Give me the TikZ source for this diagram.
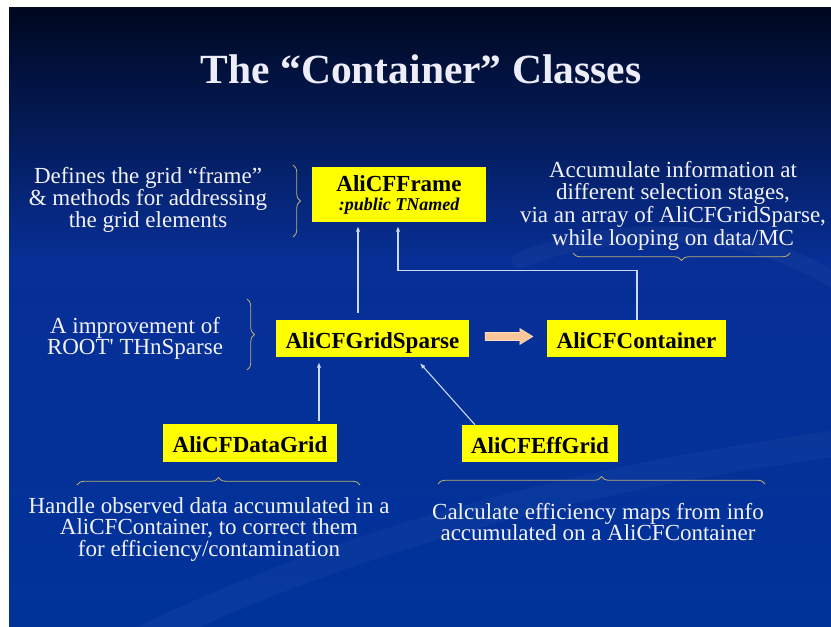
\documentclass[tikz,border=0pt]{standalone}
\usepackage{fontspec}
\setmainfont{Liberation Serif}
\usetikzlibrary{decorations.pathreplacing,calc,arrows.meta}
\definecolor{bgtop}{HTML}{00081F}
\definecolor{bgmid}{HTML}{072F96}
\definecolor{bgbot}{HTML}{00339A}
\definecolor{boxyellow}{HTML}{FFFF00}
\definecolor{linecol}{HTML}{C9DAF4}
\definecolor{bracecol}{HTML}{B9AE72}
\definecolor{titlecol}{HTML}{EDEDFA}
\definecolor{txtcol}{HTML}{F2F2F8}
\definecolor{orangefill}{HTML}{F9C79A}
\begin{document}
\begin{tikzpicture}[x=1pt,y=-1pt,
  cls/.style={fill=boxyellow, inner sep=0pt, text=black,
    font=\bfseries\fontsize{23}{19}\selectfont, text height=19pt, text depth=0pt},
  desc/.style={text=txtcol, align=center, inner sep=0pt,
    font=\fontsize{23}{22}\selectfont},
  conn/.style={draw=linecol, line width=1.1pt, -{Latex[length=5.5pt,width=4.5pt]}},
  brc/.style={draw=bracecol, line width=0.8pt, decorate,
    decoration={brace, amplitude=7.5pt}},
  swoosh/.style={draw=white, opacity=0.03, line cap=round},
]
\useasboundingbox (0,0) rectangle (831,627);
\fill[white] (0,0) rectangle (831,627);
\shade[top color=bgtop, bottom color=bgmid] (9,7) rectangle (831,262);
\shade[top color=bgmid, bottom color=bgbot] (9,261) rectangle (831,627);
\begin{scope}
\clip (9,7) rectangle (831,627);
\draw[swoosh, line width=26pt] (120,650) .. controls (380,520) and (640,470) .. (860,440);
\draw[swoosh, line width=16pt] (520,260) .. controls (640,215) and (780,230) .. (860,300);
\end{scope}

% title
\node[font=\bfseries\fontsize{41.5}{41.5}\selectfont, text=titlecol, anchor=base, inner sep=0pt] (title) at (421,83) {The “Container” Classes};

% class boxes
\node[cls, minimum width=174pt, minimum height=55pt, align=center, text height=, text depth=] (fr) at (399,194.5)
  {AliCFFrame\\{\fontsize{18}{19}\selectfont\itshape :public TNamed}};
\node[cls, minimum width=193pt, minimum height=37pt] (gs) at (372.5,338.5) {AliCFGridSparse};
\node[cls, minimum width=179pt, minimum height=37pt] (ct) at (636.5,338.5) {AliCFContainer};
\node[cls, minimum width=174pt, minimum height=38pt] (dg) at (250,443) {AliCFDataGrid};
\node[cls, minimum width=156pt, minimum height=37pt] (eg) at (540,443.5) {AliCFEffGrid};

% x positions of the connectors
\coordinate (xa) at (358,0);
\coordinate (xb) at (398,0);
\coordinate (xc) at (637,0);
\coordinate (xd) at (319,0);
\coordinate (xe) at (475,0);
\coordinate (xf) at (420,0);

% connectors
\draw[conn] ([yshift=7pt]gs.north -| xa) -- ([yshift=-4pt]fr.south -| xa);
\draw[conn] (ct.north -| xc) -- ++(0,-49) -| ([yshift=-4pt]fr.south -| xb);
\draw[conn] ([yshift=3pt]dg.north -| xd) -- ([yshift=-5pt]gs.south -| xd);
\draw[conn] (eg.north -| xe) -- ([yshift=-6pt]gs.south -| xf);

% block arrow GridSparse -> Container
\filldraw[fill=orangefill, draw=orangefill!60!white, line width=0.6pt]
  ($(gs.east)+(16,-6)$) -- ($(ct.west)+(-27,-6)$) -- ($(ct.west)+(-27,-10)$)
  -- ($(ct.west)+(-14,-2)$) -- ($(ct.west)+(-27,6)$) -- ($(ct.west)+(-27,2)$)
  -- ($(gs.east)+(16,2)$) -- cycle;

% braces
\draw[brc] (293,165) -- (293,237);
\draw[brc] (247,299) -- (247,370);
\draw[brc] (790,253) -- (573,253);
\draw[brc] (77,485) -- (360,485);
\draw[brc] (438,484) -- (765,484);

% descriptions
\node[desc] (t1) at (148,200) {Defines the grid “frame”\\\& methods for addressing\\the grid elements};
\node[desc, font=\fontsize{23}{21}\selectfont] (t2) at (135,338.5) {A improvement of\\ROOT\textquotesingle{} THnSparse};
\node[desc, font=\fontsize{23}{22.7}\selectfont] (t3) at (673,205.5) {Accumulate information at\\different selection stages,\\via an array of AliCFGridSparse,\\while looping on data/MC};
\node[desc, font=\fontsize{23}{21.5}\selectfont] (t4) at (209,529) {Handle observed data accumulated in a\\AliCFContainer, to correct them\\for efficiency/contamination};
\node[desc, font=\fontsize{23}{21.5}\selectfont] (t5) at (598,522) {Calculate efficiency maps from info\\accumulated on a AliCFContainer};
\end{tikzpicture}
\end{document}
